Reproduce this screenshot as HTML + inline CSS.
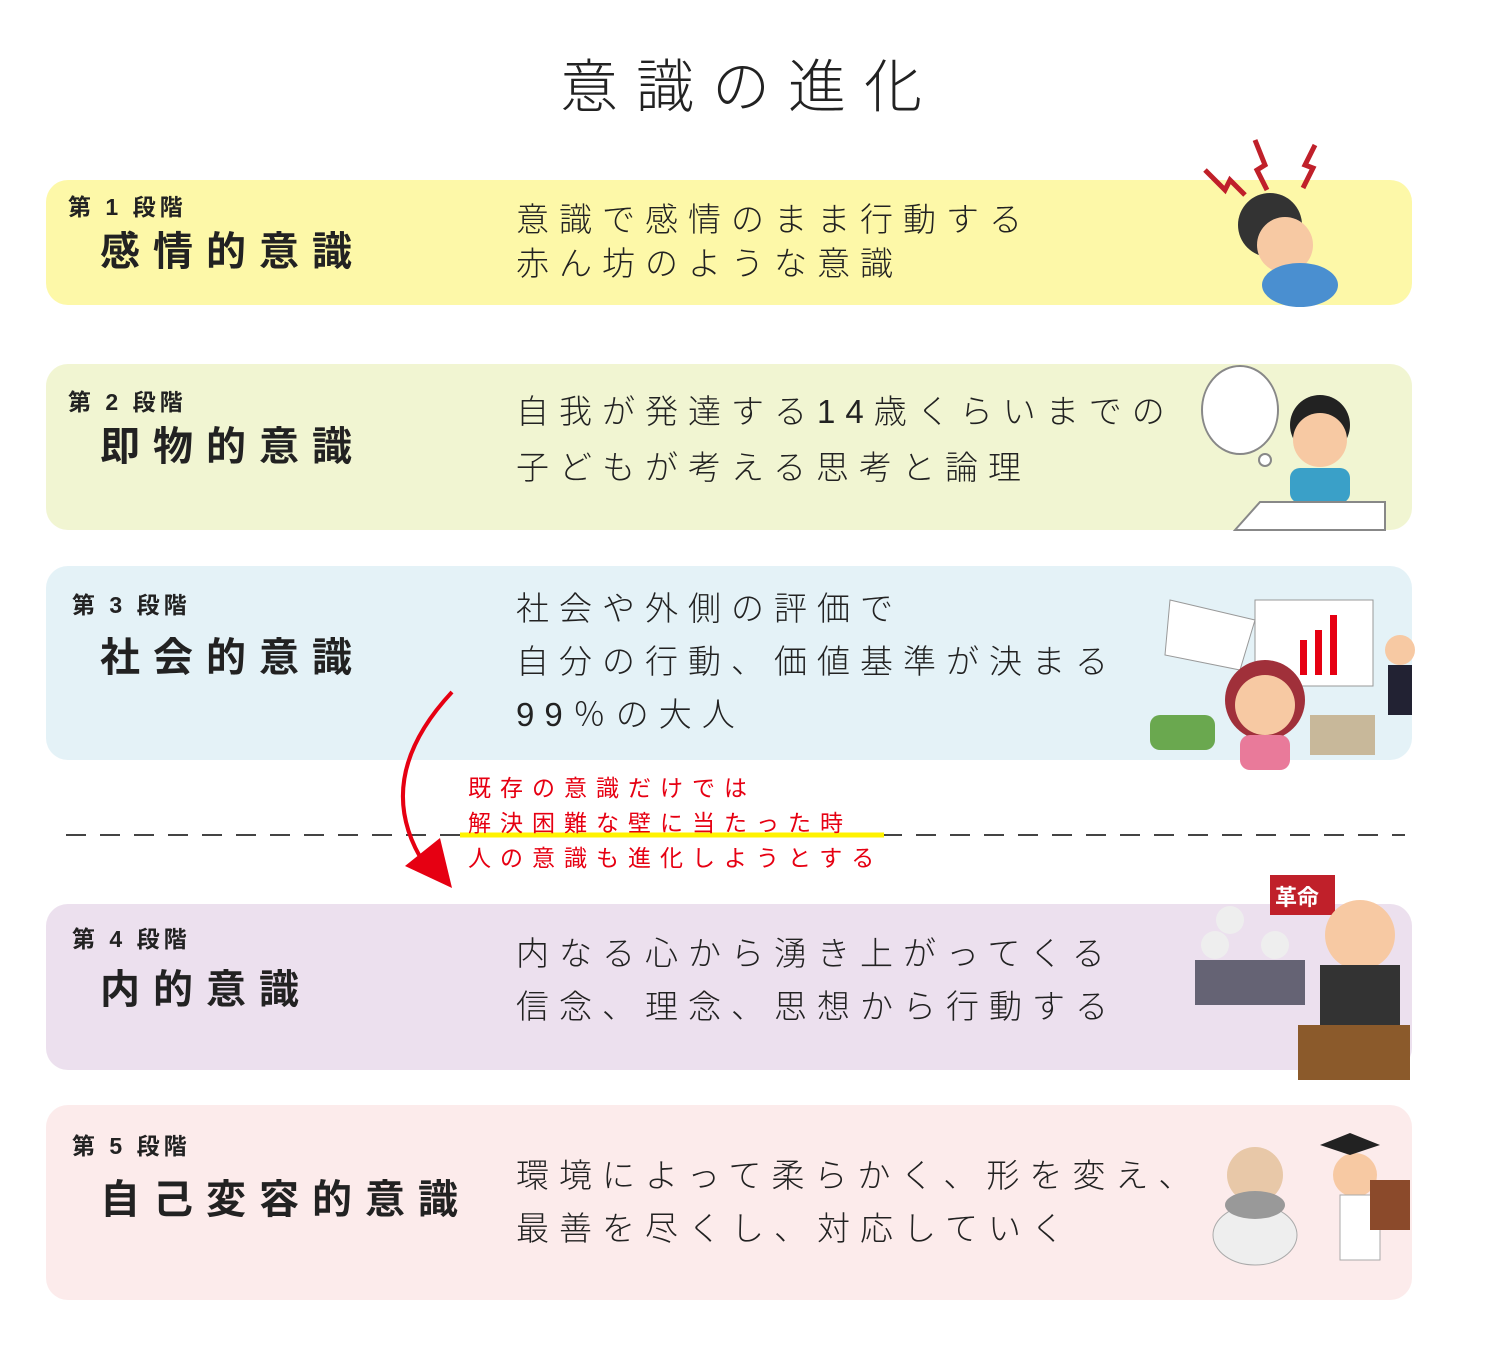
<!DOCTYPE html>
<html><head><meta charset="utf-8"><style>
body{margin:0;width:1500px;height:1361px;background:#fff;position:relative;overflow:hidden;font-family:"Liberation Sans","Noto Sans CJK JP",sans-serif;color:#222}
.a{position:absolute;white-space:nowrap}
.band{position:absolute;left:46px;width:1366px;border-radius:22px}
.st{font-size:23px;font-weight:bold;letter-spacing:4px}
.nm{font-size:40px;font-weight:bold;letter-spacing:13px}
.ds{font-size:33px;letter-spacing:10px;line-height:53px;font-weight:300}
.rd{color:#e60012;font-size:23px;letter-spacing:9px;line-height:35px}
</style></head><body>
<div class="a" style="left:0;width:1500px;text-align:center;top:40px;font-size:58px;letter-spacing:18px;font-weight:300">意識の進化</div>

<div class="band" style="top:180px;height:125px;background:#fdf8a8"></div>
<div class="band" style="top:364px;height:166px;background:#f1f5d2"></div>
<div class="band" style="top:566px;height:194px;background:#e4f2f7"></div>
<div class="band" style="top:904px;height:166px;background:#ece0ee"></div>
<div class="band" style="top:1105px;height:195px;background:#fcebeb"></div>

<div class="a st" style="left:68px;top:188px">第 1 段階</div>
<div class="a nm" style="left:100px;top:219px">感情的意識</div>
<div class="a ds" style="left:516px;top:198px;line-height:44px">意識で感情のまま行動する<br>赤ん坊のような意識</div>

<div class="a st" style="left:68px;top:383px">第 2 段階</div>
<div class="a nm" style="left:100px;top:414px">即物的意識</div>
<div class="a ds" style="left:516px;top:384px;line-height:56px">自我が発達する14歳くらいまでの<br>子どもが考える思考と論理</div>

<div class="a st" style="left:72px;top:586px">第 3 段階</div>
<div class="a nm" style="left:100px;top:625px">社会的意識</div>
<div class="a ds" style="left:516px;top:582px">社会や外側の評価で<br>自分の行動、価値基準が決まる<br>99％の大人</div>

<div class="a st" style="left:72px;top:920px">第 4 段階</div>
<div class="a nm" style="left:100px;top:957px">内的意識</div>
<div class="a ds" style="left:516px;top:927px">内なる心から湧き上がってくる<br>信念、理念、思想から行動する</div>

<div class="a st" style="left:72px;top:1127px">第 5 段階</div>
<div class="a nm" style="left:100px;top:1167px">自己変容的意識</div>
<div class="a ds" style="left:516px;top:1149px">環境によって柔らかく、形を変え、<br>最善を尽くし、対応していく</div>

<svg class="a" style="left:0;top:0" width="1500" height="1361">
<line x1="66" y1="835" x2="1405" y2="835" stroke="#444" stroke-width="2" stroke-dasharray="20,14"/>
<line x1="460" y1="835" x2="884" y2="835" stroke="#fff200" stroke-width="5"/>
<path d="M452 692 Q370 780 425 865" fill="none" stroke="#e60012" stroke-width="4"/>
<polygon points="405,866 452,888 440,838" fill="#e60012"/>
<circle cx="1270" cy="225" r="32" fill="#333"/><circle cx="1285" cy="245" r="28" fill="#f7c9a3"/>
<ellipse cx="1300" cy="285" rx="38" ry="22" fill="#4a8fd0"/>
<path d="M1205 170 l20 20 l5 -10 l15 15 M1255 140 l10 25 l-8 5 l10 20 M1315 145 l-10 20 l8 3 l-10 20" stroke="#c0202a" stroke-width="5" fill="none"/>
<ellipse cx="1240" cy="410" rx="38" ry="44" fill="#fff" stroke="#888" stroke-width="2"/>
<circle cx="1265" cy="460" r="6" fill="#fff" stroke="#888" stroke-width="2"/>
<circle cx="1320" cy="425" r="30" fill="#222"/><circle cx="1320" cy="440" r="27" fill="#f7c9a3"/>
<rect x="1290" y="468" width="60" height="35" rx="10" fill="#3aa0c8"/>
<polygon points="1235,530 1260,502 1385,502 1385,530" fill="#fff" stroke="#888" stroke-width="2"/>
<rect x="1255" y="600" width="118" height="86" fill="#fff" stroke="#999"/>
<rect x="1300" y="640" width="7" height="35" fill="#e60012"/><rect x="1315" y="630" width="7" height="45" fill="#e60012"/><rect x="1330" y="615" width="7" height="60" fill="#e60012"/>
<polygon points="1170,600 1255,620 1240,670 1165,655" fill="#fff" stroke="#999"/>
<circle cx="1265" cy="700" r="40" fill="#a0303a"/><circle cx="1265" cy="705" r="30" fill="#f7c9a3"/>
<rect x="1240" y="735" width="50" height="35" rx="10" fill="#e97a9a"/>
<rect x="1150" y="715" width="65" height="35" rx="10" fill="#6aa84f"/>
<rect x="1310" y="715" width="65" height="40" fill="#c8b89a"/>
<circle cx="1400" cy="650" r="15" fill="#f7c9a3"/><rect x="1388" y="665" width="24" height="50" fill="#223"/>
<rect x="1270" y="875" width="65" height="40" fill="#c0202a"/><text x="1275" y="905" fill="#fff" font-size="22" font-weight="bold">革命</text>
<circle cx="1360" cy="935" r="35" fill="#f7c9a3"/><rect x="1320" y="965" width="80" height="60" fill="#333"/>
<rect x="1298" y="1025" width="112" height="55" fill="#8b5a2b"/>
<circle cx="1215" cy="945" r="14" fill="#eee"/><circle cx="1230" cy="920" r="14" fill="#eee"/><circle cx="1275" cy="945" r="14" fill="#eee"/>
<rect x="1195" y="960" width="110" height="45" fill="#445" opacity=".8"/>
<ellipse cx="1255" cy="1235" rx="42" ry="30" fill="#eee" stroke="#aaa"/>
<circle cx="1255" cy="1175" r="28" fill="#e8c8a8"/><ellipse cx="1255" cy="1205" rx="30" ry="14" fill="#999"/>
<circle cx="1355" cy="1175" r="22" fill="#f7c9a3"/><rect x="1340" y="1195" width="40" height="65" fill="#fff" stroke="#aaa"/>
<polygon points="1320,1145 1350,1133 1380,1145 1350,1155" fill="#222"/>
<rect x="1370" y="1180" width="40" height="50" fill="#8b4a2b"/>
</svg>

<div class="a rd" style="left:468px;top:771px">既存の意識だけでは<br>解決困難な壁に当たった時<br>人の意識も進化しようとする</div>
</body></html>
